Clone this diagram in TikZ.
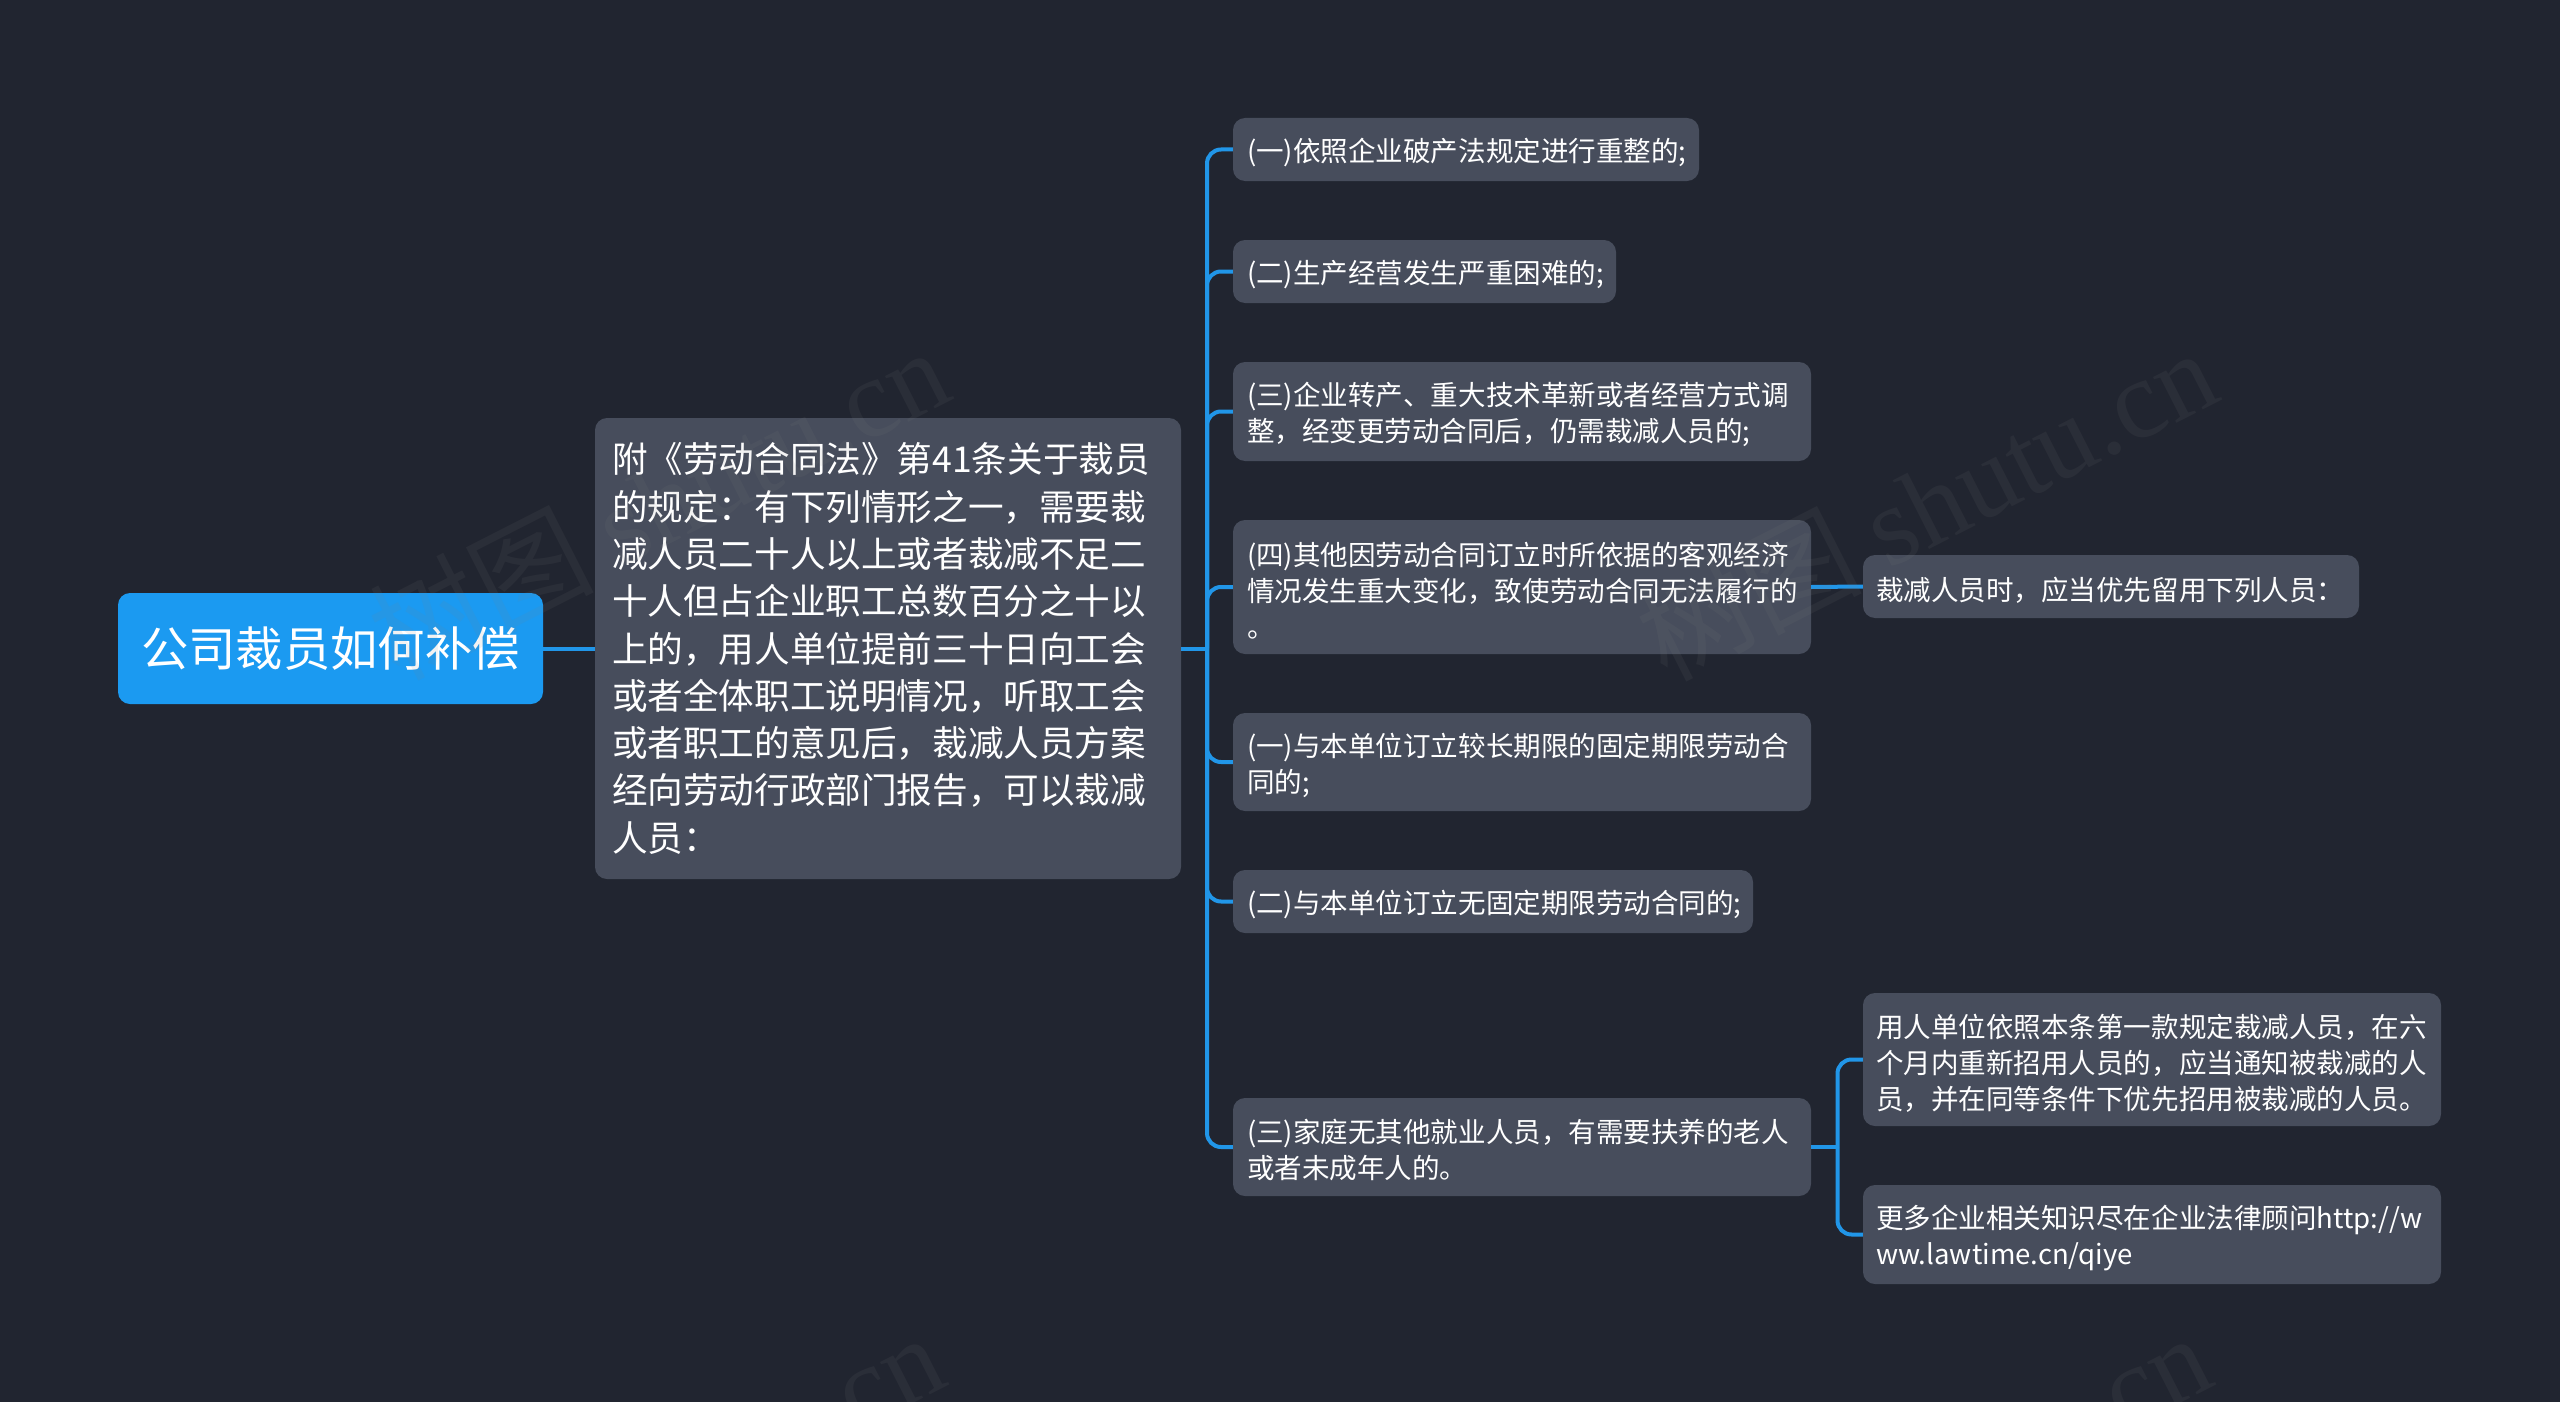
\documentclass[tikz,border=0pt]{standalone}
\usepackage{fontspec}
\setmainfont{Noto Sans CJK SC}
\newfontfamily\wmlatin{Liberation Serif}
\definecolor{bgc}{HTML}{212530}
\definecolor{nodec}{HTML}{474D5C}
\definecolor{rootc}{HTML}{1B9AF1}
\definecolor{linkc}{HTML}{2196E8}
\definecolor{wmc}{HTML}{808080}
\tikzset{
  box/.style={rectangle,rounded corners=12pt,fill=nodec,text=white,align=left,inner ysep=0pt,inner xsep=14pt,anchor=center},
  leaf/.style={box,font=\fontsize{27.55}{36}\selectfont,execute at begin node={\rule{0pt}{30pt}}},
  mid/.style={box,inner xsep=17pt,font=\fontsize{35.6}{47.3}\selectfont},
  rootbox/.style={rectangle,rounded corners=12pt,fill=rootc,text=white,align=center,inner sep=0pt,anchor=center,font=\fontsize{47.3}{56}\selectfont},
  link/.style={draw=linkc,line width=4pt,rounded corners=14pt},
  wm/.style={text=wmc,text opacity=0.1,rotate=27,font=\fontsize{112}{120}\selectfont,anchor=center}
}
\begin{document}
\begin{tikzpicture}[x=1pt,y=-1pt]
\useasboundingbox[fill=bgc] (0,0) rectangle (2560,1402);
\node[rootbox,minimum width=425pt,minimum height=111pt] (root) at (330.5,648.5) {公司裁员如何补偿};
\node[mid,minimum width=586pt,minimum height=461pt,text width=552pt] (m) at (888,648.5) {附《劳动合同法》第41条关于裁员\\的规定：有下列情形之一，需要裁\\减人员二十人以上或者裁减不足二\\十人但占企业职工总数百分之十以\\上的，用人单位提前三十日向工会\\或者全体职工说明情况，听取工会\\或者职工的意见后，裁减人员方案\\经向劳动行政部门报告，可以裁减\\人员：};
\node[leaf,minimum width=466pt,minimum height=63pt,text width=438pt] (n1) at (1466,149.5) {(一)依照企业破产法规定进行重整的;};
\node[leaf,minimum width=383pt,minimum height=63pt,text width=355pt] (n2) at (1424.5,271.5) {(二)生产经营发生严重困难的;};
\node[leaf,minimum width=578pt,minimum height=99pt,text width=550pt] (n3) at (1522,411.5) {(三)企业转产、重大技术革新或者经营方式调\\整，经变更劳动合同后，仍需裁减人员的;};
\node[leaf,minimum width=578pt,minimum height=134pt,text width=550pt] (n4) at (1522,587) {(四)其他因劳动合同订立时所依据的客观经济\\情况发生重大变化，致使劳动合同无法履行的\\。};
\node[leaf,minimum width=578pt,minimum height=98pt,text width=550pt] (n5) at (1522,762) {(一)与本单位订立较长期限的固定期限劳动合\\同的;};
\node[leaf,minimum width=520pt,minimum height=63pt,text width=492pt] (n6) at (1493,901.5) {(二)与本单位订立无固定期限劳动合同的;};
\node[leaf,minimum width=578pt,minimum height=98pt,text width=550pt] (n7) at (1522,1147) {(三)家庭无其他就业人员，有需要扶养的老人\\或者未成年人的。};
\node[leaf,minimum width=496pt,minimum height=63pt,text width=470pt,inner xsep=13pt] (r4) at (2111,586.5) {裁减人员时，应当优先留用下列人员：};
\node[leaf,minimum width=578pt,minimum height=133pt,text width=552pt,inner xsep=13pt] (r7a) at (2152,1059.5) {用人单位依照本条第一款规定裁减人员，在六\\个月内重新招用人员的，应当通知被裁减的人\\员，并在同等条件下优先招用被裁减的人员。};
\node[leaf,minimum width=578pt,minimum height=99pt,text width=552pt,inner xsep=13pt] (r7b) at (2152,1234.5) {更多企业相关知识尽在企业法律顾问http://w\\ww.lawtime.cn/qiye};
\coordinate (t1) at (1207,648.5);
\coordinate (t2) at (1837.5,1147);
\draw[link] (root.east) -- (m.west);
\draw[link] (m.east) -- (t1);
\foreach \n in {n1,n2,n3,n4,n5,n6,n7} \draw[link] (t1) |- (\n.west);
\draw[link] (n4.east) -- (r4.west);
\draw[link] (n7.east) -- (t2);
\draw[link] (t2) |- (r7a.west);
\draw[link] (t2) |- (r7b.west);
\node[wm] (w1) at (658,502) {树图 {\wmlatin shutu.cn}};
\node[wm] (w2) at (1926,503) {树图 {\wmlatin shutu.cn}};
\node[wm] (w3) at (893,1385) {{\wmlatin cn}};
\node[wm] (w4) at (2160,1385) {{\wmlatin cn}};
\end{tikzpicture}
\end{document}
